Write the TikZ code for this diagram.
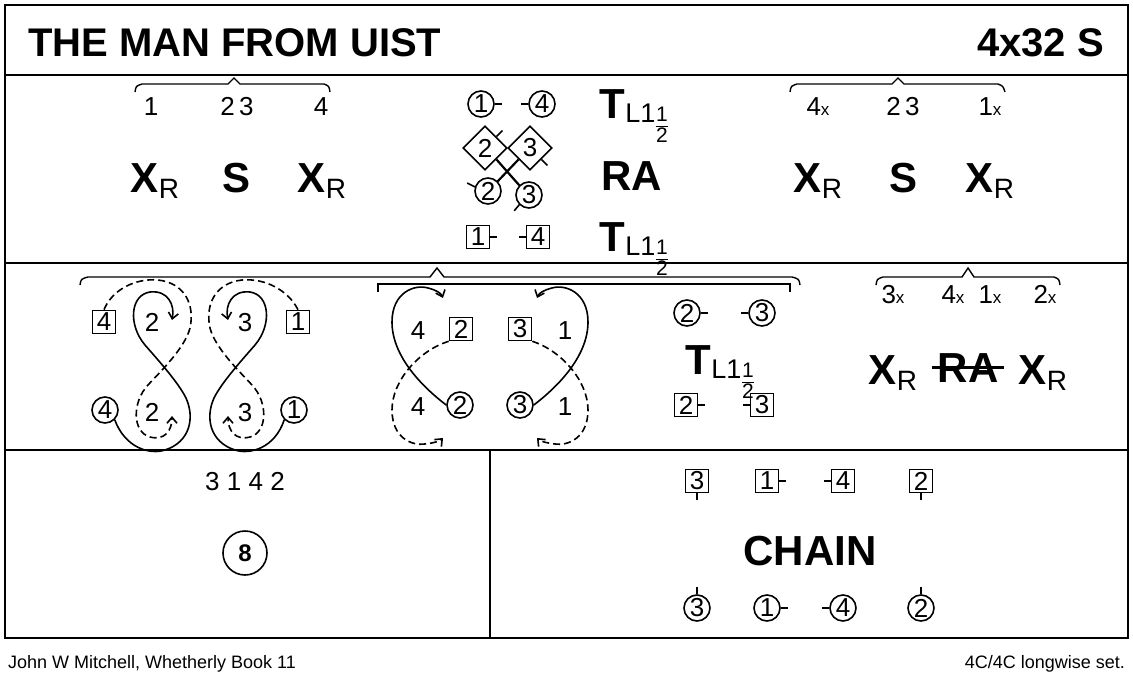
\documentclass[tikz,border=0pt]{standalone}
\usepackage{fontspec}
\setmainfont{Liberation Sans}
\usetikzlibrary{shapes.geometric,arrows.meta,calc}

\newcommand{\fs}[1]{\fontsize{#1}{#1}\selectfont}
\newcommand{\half}{\raisebox{-14pt}{\fs{21}\renewcommand{\arraystretch}{0.72}\setlength{\arrayrulewidth}{1.3pt}\setlength{\tabcolsep}{0.5pt}\begin{tabular}{c}1\\\hline 2\end{tabular}}}
\newcommand{\turnL}{{\fs{42}\bfseries T}\raisebox{-4pt}{\fs{27}L1}\half}
\newcommand{\xr}{{\fs{42}\bfseries X}\raisebox{-6pt}{\fs{28}R}}
\newcommand{\nx}[1]{#1{\fs{17}x}}

\begin{document}
\begin{tikzpicture}[x=1pt,y=-1pt,line width=1.6pt,
    frame/.style={line width=2.4pt},
    dc/.style={circle,draw,inner sep=0pt,minimum size=26pt,font=\fs{26}},
    ds/.style={rectangle,draw,inner sep=0pt,minimum size=23pt,font=\fs{26}},
    dd/.style={diamond,draw,inner sep=0pt,minimum size=44pt,font=\fs{26}},
    lbl/.style={font=\fs{26},anchor=base},
    big/.style={font=\fs{42}\bfseries,anchor=base},
    bt/.style={anchor=base},
    brace/.style={line width=1.4pt},
    walk/.style={-{Straight Barb[length=6pt,width=10pt]}},
    dwalk/.style={walk,dash pattern=on 7pt off 4pt}]
  \useasboundingbox (0,0) rectangle (1133,677);

  % frame
  \draw[frame] (5,5) rectangle (1128,638);
  \draw[frame] (5,75) -- (1128,75);
  \draw[frame] (5,263) -- (1128,263);
  \draw[frame] (5,450) -- (1128,450);
  \draw[frame] (490,450) -- (490,638);

  % title
  \node[anchor=base west,font=\fs{40}\bfseries] (title) at (24,57) {THE MAN FROM UIST};
  \node[anchor=base east,font=\fs{40}\bfseries] (form) at (1108,57) {4x32 S};
  \node[anchor=base west,font=\fs{18}] (author) at (4,668) {John W Mitchell, Whetherly Book 11};
  \node[anchor=base east,font=\fs{18}] (set) at (1129,668) {4C/4C longwise set.};

  % bars 1-8: cross and set
  \draw[brace] (135,92) .. controls (136,86) .. (142,84) -- (228,84) -- (234,78) -- (240,84) -- (324,84) .. controls (329,86) .. (330,92);
  \node[lbl] (a1) at (151,115) {1};
  \node[lbl] (a23) at (237,115) {2\,3};
  \node[lbl] (a4) at (321,115) {4};
  \node[bt] (xa) at (155,192) {\xr};
  \node[big] (sa) at (237,192) {S};
  \node[bt] (xb) at (322,192) {\xr};

  % bars 9-16: turn, right and left, turn
  \node[dc] (c1t) at (481,104) {1};
  \node[dc] (c4t) at (542,104) {4};
  \draw (c1t.east) -- ++(7,0);
  \draw (c4t.west) -- ++(-7,0);
  \node[bt] (tt) at (634,118) {\turnL};
  \node[dd] (d2) at (485,148) {2};
  \node[dd] (d3) at (530,148) {3};
  \node[dc] (c2x) at (488,191) {2};
  \node[dc] (c3x) at (529,195) {3};
  \draw[line width=2.2pt] (d2.south east) -- (c3x.north west);
  \draw[line width=2.2pt] (d3.south west) -- (c2x.north east);
  \draw (d2.north east) -- ++(6,-6);
  \draw (d3.south east) -- ++(6,6);
  \draw (c2x.west) ++(1,-4) -- ++(-8,-4);
  \draw (c3x.south west) -- ++(-5,6);
  \node[big] (ra) at (632,190) {RA};
  \node[ds] (s1t) at (478,237) {1};
  \node[ds] (s4t) at (538,237) {4};
  \draw (s1t.east) -- ++(7,0);
  \draw (s4t.west) -- ++(-7,0);
  \node[bt] (tb) at (634,251) {\turnL};

  % bars 1-8, 4th time
  \draw[brace] (790,92) .. controls (791,86) .. (797,84) -- (892,84) -- (898,78) -- (904,84) -- (998,84) .. controls (1003,86) .. (1005,92);
  \node[lbl] (b4) at (818,115) {\nx{4}};
  \node[lbl] (b23) at (903,115) {2\,3};
  \node[lbl] (b1) at (990,115) {\nx{1}};
  \node[bt] (xc) at (818,192) {\xr};
  \node[big] (sb) at (903,192) {S};
  \node[bt] (xd) at (990,192) {\xr};

  % bars 17-24
  \draw[brace] (80,285) .. controls (81,279) .. (88,277) -- (430,277) -- (437,268) -- (444,277) -- (792,277) .. controls (799,279) .. (800,285);
  \draw (378,292) -- (378,284) -- (790,284) -- (790,292);

  % figures of eight
  \node[ds] (s4e) at (104,322) {4};
  \node[lbl] (u2) at (152,331) {2};
  \node[lbl] (u3) at (245,331) {3};
  \node[ds] (s1e) at (298,322) {1};
  \node[dc] (c4e) at (105,410) {4};
  \node[lbl] (v2) at (152,421) {2};
  \node[lbl] (v3) at (245,421) {3};
  \node[dc] (c1e) at (294,410) {1};
  \draw[walk] (c4e.south east) .. controls (125,448) and (150,455) .. (165,450) .. controls (190,442) and (195,418) .. (186,398) .. controls (178,382) and (158,360) .. (145,345) .. controls (128,325) and (130,295) .. (150,292) .. controls (168,290) and (175,305) .. (172,320);
  \draw[dwalk] (s4e.north) .. controls (112,290) and (135,278) .. (158,280) .. controls (185,283) and (195,305) .. (190,328) .. controls (185,348) and (160,372) .. (148,385) .. controls (132,402) and (132,432) .. (150,437) .. controls (165,441) and (172,430) .. (172,416);
  \draw[walk] (c1e.south west) .. controls (275,448) and (250,455) .. (235,450) .. controls (210,442) and (205,418) .. (214,398) .. controls (222,382) and (242,360) .. (255,345) .. controls (272,325) and (270,295) .. (250,292) .. controls (232,290) and (225,305) .. (228,320);
  \draw[dwalk] (s1e.north) .. controls (288,290) and (265,278) .. (242,280) .. controls (215,283) and (205,305) .. (210,328) .. controls (215,348) and (240,372) .. (252,385) .. controls (268,402) and (268,432) .. (250,437) .. controls (235,441) and (228,430) .. (228,416);

  % men cast round
  \node[lbl] (m4a) at (418,339) {4};
  \node[ds] (s2m) at (461,329) {2};
  \node[ds] (s3m) at (520,329) {3};
  \node[lbl] (m1a) at (565,339) {1};
  \node[lbl] (m4b) at (418,415) {4};
  \node[dc] (c2m) at (460,405) {2};
  \node[dc] (c3m) at (520,405) {3};
  \node[lbl] (m1b) at (565,415) {1};
  \draw[walk] (c2m.west) .. controls (420,385) and (392,355) .. (392,322) .. controls (392,292) and (415,284) .. (428,288) .. controls (436,290) and (441,293) .. (443,298);
  \draw[dwalk] (s2m.south west) .. controls (420,350) and (392,380) .. (392,410) .. controls (392,438) and (412,446) .. (425,444) .. controls (434,443) and (440,441) .. (443,438);
  \draw[walk] (c3m.east) .. controls (560,385) and (588,355) .. (588,322) .. controls (588,292) and (565,284) .. (552,288) .. controls (544,290) and (539,293) .. (537,298);
  \draw[dwalk] (s3m.south east) .. controls (560,350) and (588,380) .. (588,410) .. controls (588,438) and (568,446) .. (555,444) .. controls (546,443) and (540,441) .. (537,438);

  % turn 2s and 3s
  \node[dc] (c2t) at (687,313) {2};
  \node[dc] (c3t) at (762,313) {3};
  \draw (c2t.east) -- ++(7,0);
  \draw (c3t.west) -- ++(-7,0);
  \node[bt] (tc) at (720,374) {\turnL};
  \node[ds] (s2t) at (686,405) {2};
  \node[ds] (s3t) at (762,405) {3};
  \draw (s2t.east) -- ++(7,0);
  \draw (s3t.west) -- ++(-7,0);

  % bars 17-24, 4th time
  \draw[brace] (876,285) .. controls (877,279) .. (883,277) -- (962,277) -- (968,268) -- (974,277) -- (1054,277) .. controls (1059,279) .. (1060,285);
  \node[lbl] (e3) at (893,303) {\nx{3}};
  \node[lbl] (e4) at (953,303) {\nx{4}};
  \node[lbl] (e1) at (990,303) {\nx{1}};
  \node[lbl] (e2) at (1045,303) {\nx{2}};
  \node[bt] (xe) at (893,384) {\xr};
  \node[big] (rb) at (968,382) {RA};
  \draw[line width=2.2pt] ($(rb.west)+(-2,0)$) -- ($(rb.east)+(2,0)$);
  \node[bt] (xf) at (1043,384) {\xr};

  % bars 25-32
  \node[lbl] (order) at (245,490) {3 1 4 2};
  \node[circle,draw,minimum size=44pt,inner sep=0pt,font=\fs{24}\bfseries] (eight) at (245,553) {8};

  \node[ds] (s3c) at (697,481) {3};
  \node[ds] (s1c) at (767,481) {1};
  \node[ds] (s4c) at (843,481) {4};
  \node[ds] (s2c) at (921,481) {2};
  \draw (s3c.south) -- ++(0,7);
  \draw (s1c.east) -- ++(7,0);
  \draw (s4c.west) -- ++(-7,0);
  \draw (s2c.south) -- ++(0,7);
  \node[big] (chain) at (810,565) {CHAIN};
  \node[dc] (c3c) at (697,608) {3};
  \node[dc] (c1c) at (767,608) {1};
  \node[dc] (c4c) at (843,608) {4};
  \node[dc] (c2c) at (921,608) {2};
  \draw (c3c.north) -- ++(0,-7);
  \draw (c1c.east) -- ++(7,0);
  \draw (c4c.west) -- ++(-7,0);
  \draw (c2c.north) -- ++(0,-7);
\end{tikzpicture}
\end{document}
